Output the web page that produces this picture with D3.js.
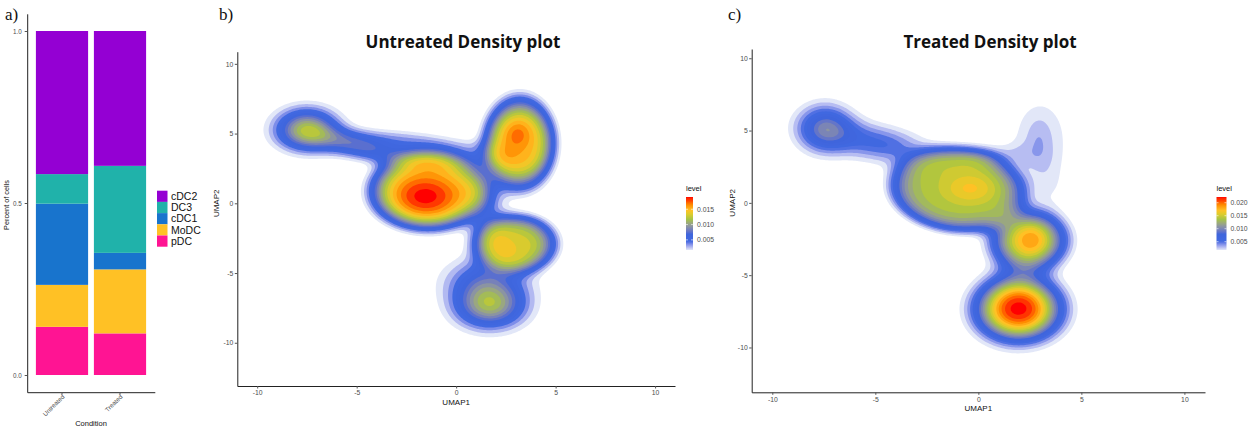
<!DOCTYPE html>
<html>
<head>
<meta charset="utf-8">
<script src="https://cdn.jsdelivr.net/npm/d3@7"></script>
<style>
  body { margin: 0; background: #fff; }
  svg { display: block; }
  text { font-family: "Liberation Sans", Arial, sans-serif; fill: #111; }
</style>
</head>
<body>
<svg id="fig" width="1254" height="429"></svg>
<script>
// ---- data: panel a ----
const conditions = ["Untreated", "Treated"]
const cellTypes = ["pDC", "MoDC", "cDC1", "DC3", "cDC2"]          // bottom -> top
const cellColors = ["#FF1493", "#FFC125", "#1874CD", "#20B2AA", "#9400D3"]
const untreatedShare = [0.140, 0.122, 0.236, 0.086, 0.416]
const treatedShare = [0.121, 0.186, 0.048, 0.253, 0.392]
const shareTicks = [0, 0.5, 1]

// ---- data: density panels (umap clusters) ----
// [centre x, centre y, spread x, spread y, peak density, shape exponent, tilt deg]
const untreatedBlobs = [
  [-1.4, 0.9, 2.5, 2.4, 0.0135, 5, 0],      // central cluster
  [-1.55, 0.5, 1.35, 1.25, 0.006, 2, 0],
  [3.2, 4.3, 1.45, 2.7, 0.015, 4, 0],       // upper right cluster
  [3.1, 4.9, 0.5, 0.8, 0.0025, 2, 0],
  [3.0, -2.9, 1.68, 1.7, 0.0128, 4, 0],     // right cluster
  [2.9, -2.9, 0.8, 0.6, 0.0008, 2, 0],
  [1.7, -7.4, 1.25, 1.15, 0.0106, 2, 0],    // lower cluster
  [-7.5, 5.3, 1.1, 1.05, 0.0118, 2, 0],     // left cluster
  [-5.0, 4.2, 1.4, 0.6, 0.004, 2, -20],
  [-2.5, 3.9, 3.6, 1.0, 0.0045, 3, -8],
  [1.5, 0.0, 0.7, 2.5, 0.004, 2, 0],
  [1.5, -5.5, 1.5, 1.2, 0.0055, 2, 0]
]
const treatedBlobs = [
  [1.95, -7.35, 1.5, 1.6, 0.0225, 2.5, 0],  // lower cluster
  [2.45, -2.6, 1.45, 1.6, 0.015, 3, 0],     // right cluster
  [2.55, -2.55, 0.6, 0.75, 0.004, 2, 0],
  [-1.0, 0.9, 2.9, 2.5, 0.0143, 6, -20],    // central cluster
  [-0.4, 1.0, 0.9, 0.75, 0.003, 2, 0],
  [-7.45, 5.15, 0.95, 1.15, 0.0092, 2, 0],  // left cluster
  [3.0, 4.4, 1.15, 2.4, 0.0027, 3, 0],      // upper right arm
  [2.95, 4.3, 0.35, 0.9, 0.0011, 2, 0],
  [-4.8, 4.1, 1.8, 0.9, 0.006, 2, -18],
  [0.6, 3.3, 1.2, 0.6, 0.003, 2, 0],
  [3.4, 1.0, 0.8, 1.3, 0.0015, 2, 0],
  [2.0, -4.9, 1.0, 1.0, 0.0015, 2, 0]
]
const umapTicks = [-10, -5, 0, 5, 10]
const untreatedLevelRange = [0.0017, 0.019]
const treatedLevelRange = [0.0018, 0.0222]
const untreatedLevelTicks = [0.005, 0.010, 0.015]
const treatedLevelTicks = [0.005, 0.010, 0.015, 0.020]

const levelStops = [0, 0.16, 0.30, 0.45, 0.58, 0.68, 0.75, 0.85, 0.93, 1]
const levelColors = ["#e2e7f8", "#4169e1", "#3f65dc", "#8d96a0", "#a6c442", "#e0cc2a", "#ffc125", "#ff8c00", "#ff4000", "#ff0000"]

const svg = d3.select("#fig")
const tickGrey = "#4d4d4d"

// ================= panel a =================
const rows = conditions.map((c, i) => {
  const r = { condition: c }
  const share = i == 0 ? untreatedShare : treatedShare
  cellTypes.forEach((t, k) => r[t] = share[k])
  return r
})
const stacked = d3.stack().keys(cellTypes)(rows)

const xa = d3.scaleBand().domain(conditions).range([27.2, 154.8]).paddingInner(0.1).paddingOuter(0.15)
const ya = d3.scaleLinear().domain([-0.05, 1.05]).range([392.2, 13.8])
const colA = d3.scaleOrdinal().domain(cellTypes).range(cellColors)

const ga = svg.append("g")
ga.selectAll("g.layer")
  .data(stacked)
  .join("g")
  .attr("class", "layer")
  .attr("fill", d => colA(d.key))
  .selectAll("rect")
  .data(d => d)
  .join("rect")
  .attr("x", d => xa(d.data.condition))
  .attr("width", xa.bandwidth())
  .attr("y", d => ya(d[1]))
  .attr("height", d => ya(d[0]) - ya(d[1]))

const yAxisA = ga.append("g").attr("transform", "translate(27.2,0)")
  .call(d3.axisLeft(ya).tickValues(shareTicks).tickFormat(d3.format(".1f")).tickSize(2.5).tickSizeOuter(0))
const xAxisA = ga.append("g").attr("transform", "translate(0,392.2)")
  .call(d3.axisBottom(xa).tickSize(2.5).tickSizeOuter(0))
;[yAxisA, xAxisA].forEach(a => {
  a.select(".domain").attr("stroke", "#222").attr("stroke-width", 1)
  a.selectAll(".tick line").attr("stroke", "#555")
  a.selectAll("text").style("fill", tickGrey).style("font-size", "6.3px")
})
xAxisA.selectAll("text")
  .attr("text-anchor", "end")
  .attr("dy", null).attr("y", 0)
  .attr("transform", "translate(3,5) rotate(-45)")

ga.append("text").attr("transform", "translate(9,205) rotate(-90)")
  .attr("text-anchor", "middle").style("font-size", "7.3px").text("Percent of cells")
ga.append("text").attr("x", 91).attr("y", 426)
  .attr("text-anchor", "middle").style("font-size", "7.5px").text("Condition")

const legA = ga.append("g").attr("transform", "translate(157,190.7)")
cellTypes.slice().reverse().forEach((t, i) => {
  legA.append("rect").attr("x", 0).attr("y", i * 11.2).attr("width", 10.5).attr("height", 11.2).attr("fill", colA(t))
  legA.append("text").attr("x", 14).attr("y", i * 11.2 + 9.3).style("font-size", "10.5px").text(t)
})

svg.append("text").attr("x", 5).attr("y", 20)
  .style("font-family", "'Liberation Serif', 'DejaVu Serif', serif").style("font-size", "17px").text("a)")

// ================= density panels =================
function density(blobs, px, py) {
  let v = 0
  blobs.forEach(b => {
    const [cx, cy, sx, sy, a, p, rot] = b
    let dx = px - cx, dy = py - cy
    if (rot) {
      const c = Math.cos(rot * Math.PI / 180), s = Math.sin(rot * Math.PI / 180)
      const u = dx * c + dy * s
      dy = -dx * s + dy * c
      dx = u
    }
    const q = Math.sqrt((dx / sx) * (dx / sx) + (dy / sy) * (dy / sy))
    v += a * Math.exp(-0.5 * Math.pow(q, p))
  })
  return v
}

function levelColor(range) {
  return d3.scaleLinear()
    .domain(levelStops.map(t => range[0] + t * (range[1] - range[0])))
    .range(levelColors)
    .interpolate(d3.interpolateLab)
    .clamp(true)
}

function drawDensity(cfg) {
  const g = svg.append("g")
  const x = d3.scaleLinear().domain([-11, 11]).range([cfg.left, cfg.right])
  const y = d3.scaleLinear().domain(cfg.yDomain).range([cfg.bottom, cfg.top])

  const step = 0.08, x0 = -11, y0 = cfg.yDomain[0]
  const nx = Math.round(22 / step) + 1
  const ny = Math.round((cfg.yDomain[1] - y0) / step) + 1
  const values = new Float64Array(nx * ny)
  for (let j = 0; j < ny; j++)
    for (let i = 0; i < nx; i++)
      values[i + j * nx] = density(cfg.blobs, x0 + i * step, y0 + j * step)

  const [lo, hi] = cfg.levelRange
  const levels = d3.range(cfg.bins + 1).map(k => lo + k * (hi - lo) / cfg.bins)
  const contours = d3.contours().size([nx, ny]).thresholds(levels)(values)
  const proj = d3.geoTransform({
    point: function (px, py) { this.stream.point(x(x0 + (px - 0.5) * step), y(y0 + (py - 0.5) * step)) }
  })
  const path = d3.geoPath(proj)
  const color = levelColor(cfg.levelRange)

  g.append("g").selectAll("path")
    .data(contours)
    .join("path")
    .attr("d", path)
    .attr("fill", d => color(d.value))

  // axes
  const ax = g.append("g").attr("transform", "translate(0," + cfg.bottom + ")")
    .call(d3.axisBottom(x).tickValues(umapTicks).tickSize(2.5).tickSizeOuter(0).tickPadding(2))
  const ay = g.append("g").attr("transform", "translate(" + cfg.left + ",0)")
    .call(d3.axisLeft(y).tickValues(umapTicks).tickSize(2.5).tickSizeOuter(0).tickPadding(1.5))
  ;[ax, ay].forEach(a => {
    a.select(".domain").attr("stroke", "#222").attr("stroke-width", 1)
    a.selectAll(".tick line").attr("stroke", "#555")
    a.selectAll("text").style("fill", tickGrey).style("font-size", "6.8px")
      .text(d => d3.format("d")(d).replace("−", "-"))
  })

  g.append("text").attr("x", x(0)).attr("y", cfg.bottom + 19)
    .attr("text-anchor", "middle").style("font-size", "8px").text("UMAP1")
  g.append("text").attr("transform", "translate(" + cfg.ylabX + "," + y(0) + ") rotate(-90)")
    .attr("text-anchor", "middle").style("font-size", "8px").text("UMAP2")

  g.append("text").attr("x", cfg.titleX).attr("y", 48)
    .attr("text-anchor", "middle")
    .style("font-family", "'Open Sans', 'Noto Sans', sans-serif")
    .style("font-weight", 700).style("font-size", "17px")
    .text(cfg.title)

  svg.append("text").attr("x", cfg.tagX).attr("y", 20)
    .style("font-family", "'Liberation Serif', 'DejaVu Serif', serif").style("font-size", "17px").text(cfg.tag)

  // colour bar legend
  const lg = g.append("g")
  const ly = d3.scaleLinear().domain(cfg.levelRange).range([250, 197])
  const gid = "grad-" + cfg.tag[0]
  const grad = svg.append("defs").append("linearGradient").attr("id", gid)
    .attr("x1", 0).attr("y1", 1).attr("x2", 0).attr("y2", 0)
  d3.range(41).forEach(k => {
    grad.append("stop").attr("offset", k / 40).attr("stop-color", color(lo + k / 40 * (hi - lo)))
  })
  lg.append("text").attr("x", cfg.legX).attr("y", 191).style("font-size", "7.5px").text("level")
  lg.append("rect").attr("x", cfg.legX).attr("y", 197).attr("width", cfg.legW).attr("height", 53)
    .attr("fill", "url(#" + gid + ")")
  cfg.levelTicks.forEach(t => {
    lg.append("line").attr("x1", cfg.legX).attr("x2", cfg.legX + 2).attr("y1", ly(t)).attr("y2", ly(t))
      .attr("stroke", "#fff").attr("stroke-width", 0.6)
    lg.append("line").attr("x1", cfg.legX + cfg.legW - 2).attr("x2", cfg.legX + cfg.legW).attr("y1", ly(t)).attr("y2", ly(t))
      .attr("stroke", "#fff").attr("stroke-width", 0.6)
    lg.append("text").attr("x", cfg.legX + cfg.legW + 4).attr("y", ly(t) + 2.3)
      .style("fill", tickGrey).style("font-size", "6.8px").text(d3.format(".3f")(t))
  })
}

drawDensity({
  tag: "b)", tagX: 219, title: "Untreated Density plot", titleX: 463,
  left: 237.3, right: 675, top: 51.7, bottom: 386, yDomain: [-13.1, 10.87], ylabX: 219,
  blobs: untreatedBlobs, levelRange: untreatedLevelRange, bins: 18, levelTicks: untreatedLevelTicks,
  legX: 686, legW: 7
})
drawDensity({
  tag: "c)", tagX: 728, title: "Treated Density plot", titleX: 990,
  left: 751.7, right: 1205, top: 49, bottom: 392.3, yDomain: [-13.1, 10.64], ylabX: 735,
  blobs: treatedBlobs, levelRange: treatedLevelRange, bins: 20, levelTicks: treatedLevelTicks,
  legX: 1216.5, legW: 10
})
</script>
</body>
</html>
